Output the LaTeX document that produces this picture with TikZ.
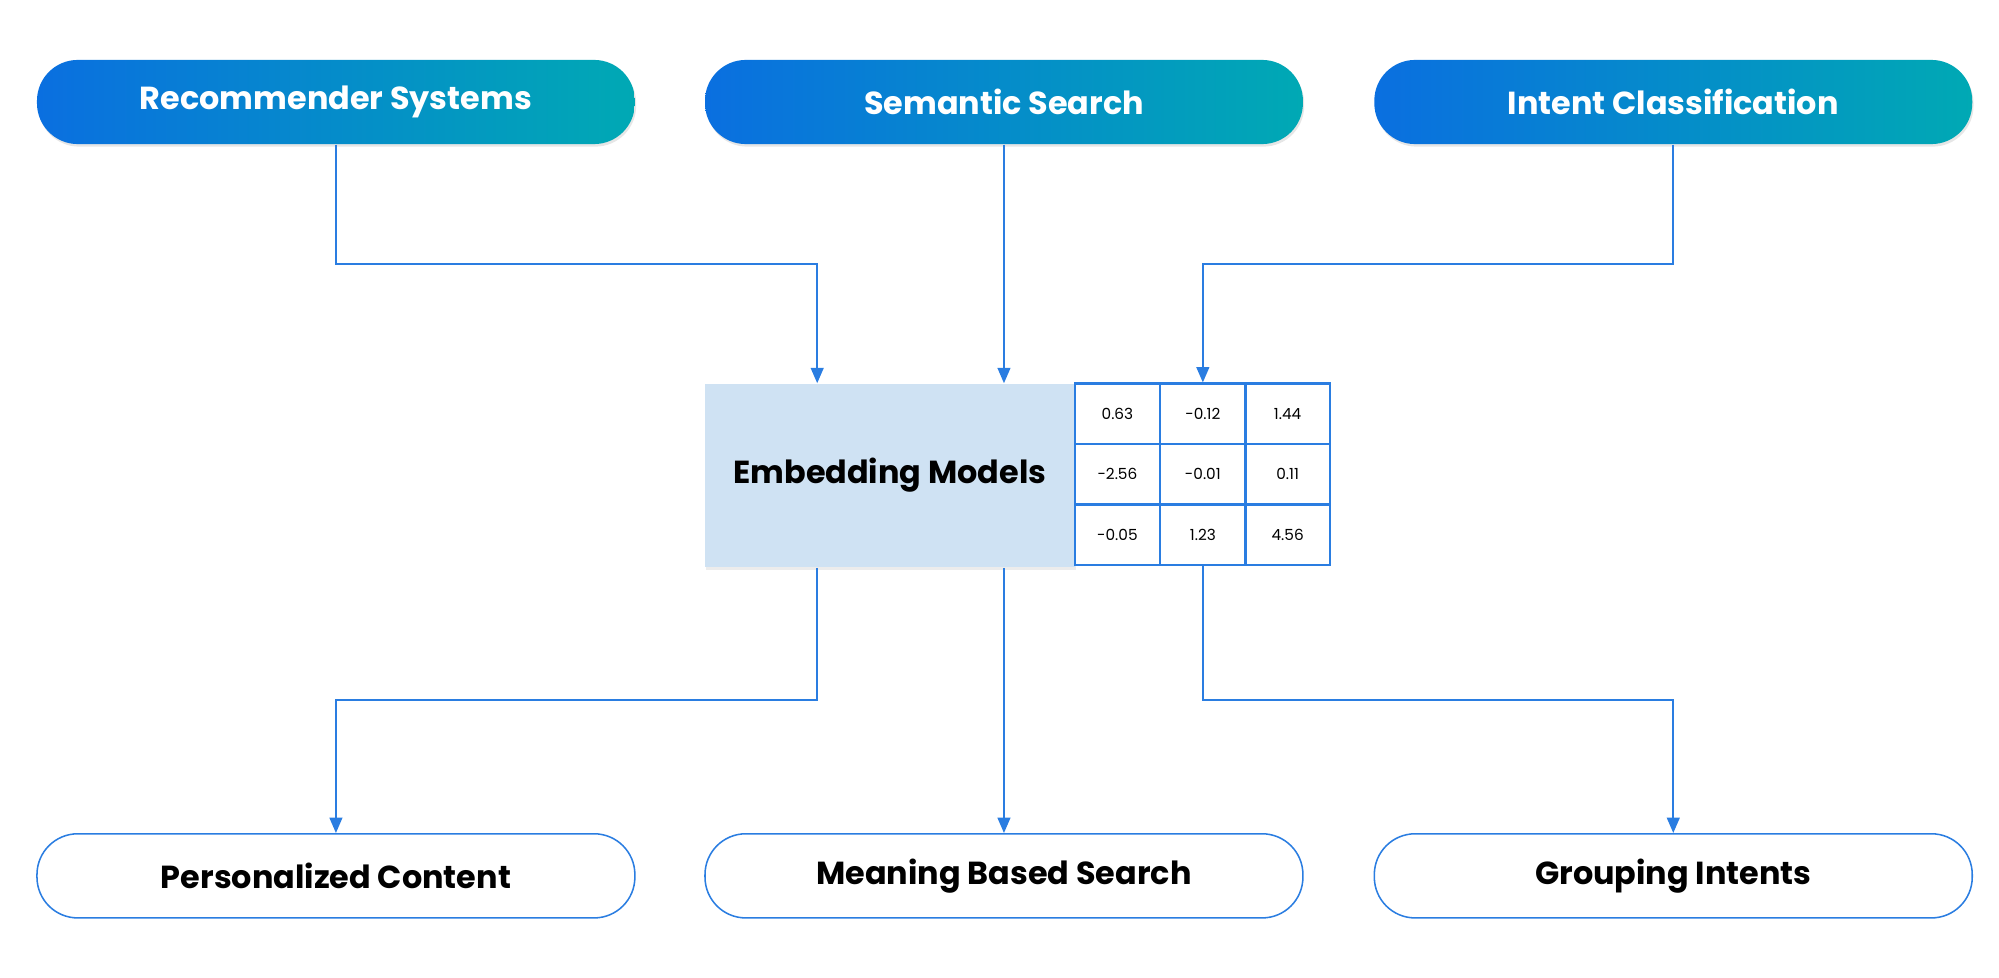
\documentclass[tikz,border=0pt]{standalone}
\usepackage{fontspec}
\setmainfont{Poppins}
\usetikzlibrary{shadows,arrows.meta}
\definecolor{lb}{HTML}{2A7DE1}
\definecolor{gl}{HTML}{0A6FE0}
\definecolor{gr}{HTML}{00A9B4}
\definecolor{emb}{HTML}{CFE2F3}
\begin{document}
\begin{tikzpicture}[x=0.5pt,y=-0.5pt,
  top/.style={rounded corners=16pt,minimum width=234.5pt,minimum height=33pt,left color=gl,right color=gr,
    text=white,font=\fontsize{12.5}{14}\selectfont\bfseries,drop shadow={opacity=0.2,shadow xshift=0.5pt,shadow yshift=-1pt}},
  bot/.style={rounded corners=16pt,minimum width=234.5pt,minimum height=33pt,draw=lb,line width=0.6pt,fill=white,
    text=black,font=\fontsize{12.5}{14}\selectfont\bfseries},
  cell/.style={draw=lb,line width=0.8pt,minimum width=33.5pt,minimum height=23.7pt,inner sep=0pt,font=\fontsize{6}{7}\selectfont},
  ar/.style={draw=lb,line width=0.7pt,-{Triangle[length=6pt,width=5pt]}},
  ln/.style={draw=lb,line width=0.7pt}]
\useasboundingbox (0,0) rectangle (1568,767);
\node[top] (t1) at (263.5,80) {Recommender Systems};
\node[top] (t2) at (787.5,80) {Semantic Search};
\node[top] (t3) at (1312.5,80) {Intent Classification};
\node[bot] (b1) at (263.5,687) {Personalized Content};
\node[bot] (b2) at (787.5,687) {Meaning Based Search};
\node[bot] (b3) at (1312.5,687) {Grouping Intents};
\node[fill=emb,minimum width=145pt,minimum height=72pt,inner sep=0pt,drop shadow={opacity=0.15,shadow xshift=0.5pt,shadow yshift=-1pt},
  font=\fontsize{12.5}{14}\selectfont\bfseries] (e) at (698,373) {Embedding Models};
\foreach \r/\y/\a/\b/\c in {1/324.5/0.63/-0.12/1.44,2/372/-2.56/-0.01/0.11,3/419.5/-0.05/1.23/4.56}{
  \node[cell] (c\r1) at (876.5,\y) {\a};
  \node[cell] (c\r2) at (943.5,\y) {\b};
  \node[cell] (c\r3) at (1010,\y) {\c};
}
\coordinate (k1) at (263.5,207); \coordinate (k2) at (641,207);
\coordinate (k3) at (1312.5,207); \coordinate (k4) at (943.5,207);
\coordinate (m1) at (641,549); \coordinate (m2) at (263.5,549);
\coordinate (m3) at (943.5,549); \coordinate (m4) at (1312.5,549);
\draw[ar] (t1.south) -- (k1) -- (k2) -- (k2 |- e.north);
\draw[ar] (t2.south) -- (e.north -| t2.south);
\draw[ar] (t3.south) -- (k3) -- (k4) -- (c12.north);
\draw[ar] (m1 |- e.south) -- (m1) -- (m2) -- (b1.north);
\draw[ar] (e.south -| b2.north) -- (b2.north);
\draw[ar] (c32.south) -- (m3) -- (m4) -- (b3.north);
\end{tikzpicture}
\end{document}
